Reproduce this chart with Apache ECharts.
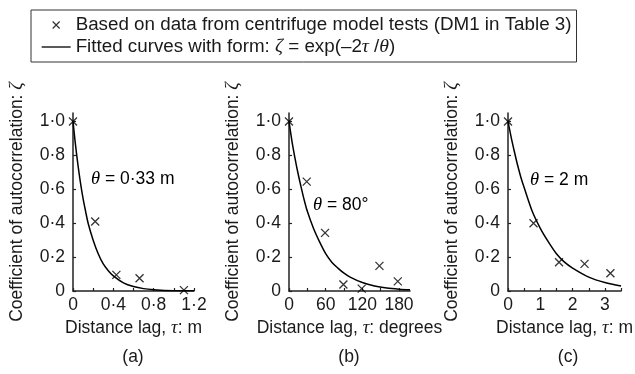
<!DOCTYPE html>
<html>
<head>
<meta charset="utf-8">
<script src="https://cdn.jsdelivr.net/npm/echarts@6/dist/echarts.min.js"></script>
<style>html,body{margin:0;padding:0;background:#fff;}#c{width:635px;height:374px;}</style>
</head>
<body>
<div id="c"></div>
<script>
// ---- data ----
const distA = [0, 0.22, 0.43, 0.66, 1.10];
const corrA = [1.0, 0.41, 0.095, 0.075, 0.005];
const distB = [0, 29, 59, 89, 119, 148, 178];
const corrB = [1.0, 0.645, 0.343, 0.038, 0.014, 0.148, 0.057];
const distC = [0, 0.79, 1.58, 2.37, 3.17];
const corrC = [1.0, 0.40, 0.17, 0.16, 0.105];

// fitted curves
const fitXA = [0, 0.025, 0.05, 0.075, 0.1, 0.125, 0.15, 0.2, 0.25, 0.3, 0.35, 0.4, 0.5, 0.6, 0.7, 0.8, 1.0, 1.2];
const fitYA = [1, 0.86, 0.74, 0.635, 0.545, 0.47, 0.40, 0.30, 0.22, 0.16, 0.12, 0.089, 0.048, 0.026, 0.014, 0.008, 0.002, 0.001];
const fitXB = [0, 5, 10, 15, 20, 25, 30, 40, 50, 60, 70, 80, 90, 100, 120, 140, 160, 180, 198];
const fitYB = [1, 0.88, 0.78, 0.69, 0.61, 0.535, 0.47, 0.37, 0.29, 0.22, 0.17, 0.135, 0.105, 0.082, 0.05, 0.03, 0.018, 0.011, 0.007];
const fitXC = [0, 0.1, 0.2, 0.3, 0.4, 0.5, 0.75, 1, 1.25, 1.5, 1.75, 2, 2.5, 3, 3.5];
const fitYC = [1, 0.905, 0.82, 0.74, 0.67, 0.61, 0.47, 0.37, 0.29, 0.22, 0.17, 0.135, 0.082, 0.05, 0.03];

const yTicks = [0, 0.2, 0.4, 0.6, 0.8, 1.0];
const yLabels = [0, 0.2, 0.4, 0.6, 0.8, 1.0];
const xTicksA = [0, 0.2, 0.4, 0.6, 0.8, 1.0, 1.2];
const xLabelsA = [0, 0.4, 0.8, 1.2];
const xTicksB = [0, 30, 60, 90, 120, 150, 180];
const xLabelsB = [0, 60, 120, 180];
const xTicksC = [0, 0.5, 1, 1.5, 2, 2.5, 3, 3.5];
const xLabelsC = [0, 1, 2, 3];

const xNames = ['Distance lag, ', 'Distance lag, ', 'Distance lag, '];
const xUnits = [': m', ': degrees', ': m'];
const panelTags = ['(a)', '(b)', '(c)'];
const thetaTexts = [' = 0·33 m', ' = 80°', ' = 2 m'];

const NAME_PTS = 'Based on data from centrifuge model tests (DM1 in Table 3)';
const NAME_FIT = 'Fitted curves with form';

// ---- styling ----
const FF = '"Liberation Sans", Arial, Helvetica, sans-serif';
const FS = 17.5;
const LFS = 18.8;
const TXT = '#1a1a1a';
const SERIF = '"Liberation Serif", "DejaVu Serif", serif';
const rich = {
  n: {fontFamily: FF, fontSize: FS, color: TXT},
  i: {fontFamily: SERIF, fontStyle: 'italic', fontSize: FS + 1, color: TXT}
};
const richL = {
  n: {fontFamily: FF, fontSize: LFS, color: TXT, lineHeight: 20},
  i: {fontFamily: SERIF, fontStyle: 'italic', fontSize: LFS + 1, color: TXT, lineHeight: 20}
};
const CROSS = 'path://M0,0L10,10M10,0L0,10';

function zip(a, b) { return a.map((v, i) => [v, b[i]]); }
function fmtY(v) { return v === 0 ? '0' : v.toFixed(1).replace('.', '·'); }
function fmtX(v) { return Number.isInteger(v) ? String(v) : v.toFixed(1).replace('.', '·'); }

const grids = [
  {left: 73, right: 441, top: 113, bottom: 83},
  {left: 289, right: 225, top: 113, bottom: 83},
  {left: 508, right: 7, top: 113, bottom: 83}
];
const xMax = [1.2, 198, 3.5];
const xTickSets = [xTicksA, xTicksB, xTicksC];
const xLabelSets = [xLabelsA, xLabelsB, xLabelsC];

const axisLineStyle = {color: '#222', width: 1.5};

const xAxes = grids.map((g, i) => ({
  type: 'value', gridIndex: i, min: 0, max: xMax[i],
  name: '{n|' + xNames[i] + '}{i|τ}{n|' + xUnits[i] + '}',
  nameLocation: 'middle', nameGap: 28,
  nameTextStyle: {rich: rich},
  axisLine: {show: true, onZero: false, lineStyle: axisLineStyle},
  axisTick: {show: true, inside: true, length: 3, customValues: xTickSets[i], lineStyle: {color: '#222', width: 1.2}},
  axisLabel: {customValues: xLabelSets[i], formatter: fmtX, margin: 5, fontFamily: FF, fontSize: FS, color: TXT},
  splitLine: {show: false}
}));
const yAxes = grids.map((g, i) => ({
  type: 'value', gridIndex: i, min: 0, max: 1.05,
  name: '{n|Coefficient of autocorrelation: }{i|ζ}',
  nameLocation: 'middle', nameGap: 46,
  nameTextStyle: {rich: rich},
  axisLine: {show: true, onZero: false, lineStyle: axisLineStyle},
  axisTick: {show: true, inside: true, length: 3, customValues: yTicks, lineStyle: {color: '#222', width: 1.2}},
  axisLabel: {customValues: yLabels, formatter: fmtY, margin: 8, fontFamily: FF, fontSize: FS, color: TXT},
  splitLine: {show: false}
}));

const dists = [distA, distB, distC];
const corrs = [corrA, corrB, corrC];
const fitXs = [fitXA, fitXB, fitXC];
const fitYs = [fitYA, fitYB, fitYC];

const series = [];
for (let i = 0; i < 3; i++) {
  series.push({
    name: NAME_FIT, type: 'line', xAxisIndex: i, yAxisIndex: i,
    data: zip(fitXs[i], fitYs[i]), smooth: 0.3,
    showSymbol: false, symbol: 'none',
    lineStyle: {color: '#000', width: 1.5}, itemStyle: {color: '#000'},
    z: 2, silent: true
  });
  series.push({
    name: NAME_PTS, type: 'scatter', xAxisIndex: i, yAxisIndex: i,
    data: zip(dists[i], corrs[i]), symbol: CROSS, symbolSize: 8,
    itemStyle: {color: 'rgba(0,0,0,0)', borderColor: '#000', borderWidth: 1.3},
    z: 3, silent: true
  });
}

const thetaPos = [[91, 170], [313, 196], [530, 171]];
const tagX = [133, 349, 568];

const graphic = [];
for (let i = 0; i < 3; i++) {
  graphic.push({
    type: 'text', left: thetaPos[i][0], top: thetaPos[i][1], z: 10,
    style: {text: '{i|θ}{n|' + thetaTexts[i] + '}', rich: rich}
  });
  graphic.push({
    type: 'text', x: tagX[i], y: 357, z: 10,
    style: {text: panelTags[i], fontFamily: FF, fontSize: FS, fill: TXT, align: 'center', verticalAlign: 'middle'}
  });
}

const chart = echarts.init(document.getElementById('c'), null, {renderer: 'canvas'});
chart.setOption({
  backgroundColor: '#fff',
  animation: false,
  grid: grids,
  xAxis: xAxes,
  yAxis: yAxes,
  legend: {
    orient: 'vertical', left: 31, top: 10,
    itemWidth: 29, itemHeight: 7, itemGap: 2,
    padding: [5, 5, 5, 10],
    borderColor: '#333', borderWidth: 1,
    selectedMode: false,
    data: [
      {name: NAME_PTS, icon: CROSS, itemStyle: {color: 'rgba(0,0,0,0)', borderColor: '#000', borderWidth: 1.2}},
      {name: NAME_FIT, itemStyle: {opacity: 0}, lineStyle: {color: '#000', width: 1.3}}
    ],
    textStyle: {fontFamily: FF, fontSize: LFS, color: TXT, lineHeight: 20, rich: richL},
    formatter: function (name) {
      if (name === NAME_FIT) return '{n|Fitted curves with form: }{i|ζ}{n| = exp(–2}{i|τ}{n| /}{i|θ}{n|)}';
      return '{n|' + name + '}';
    }
  },
  graphic: graphic,
  series: series
});
</script>
</body>
</html>
